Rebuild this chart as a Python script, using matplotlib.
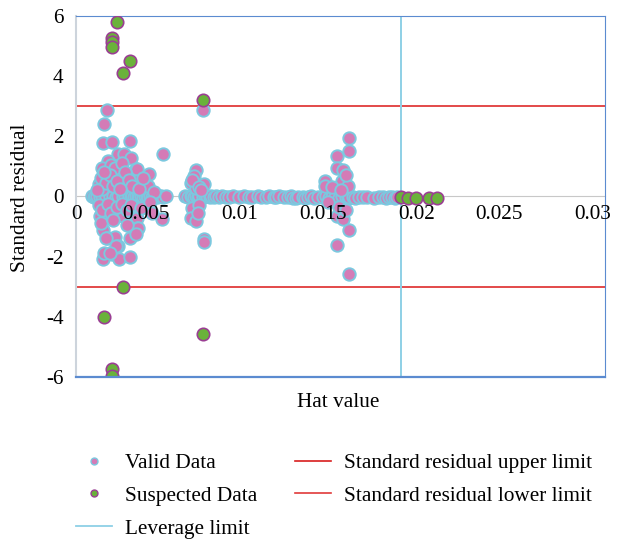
import numpy as np
import matplotlib
matplotlib.use("Agg")
import matplotlib.pyplot as plt
import matplotlib.transforms as mtransforms
from matplotlib.lines import Line2D

plt.rcParams['font.family'] = ['Liberation Serif', 'DejaVu Serif']

# --- Data ---
# valid points lying on the zero line
zero_x = [0.0009, 0.0010, 0.0011, 0.0012, 0.00136, 0.0015, 0.0017, 0.0019, 0.0021, 0.00227,
          0.0024, 0.00265, 0.0028, 0.00302, 0.0031, 0.0032, 0.00331, 0.0034, 0.0035, 0.00359,
          0.0037, 0.00378, 0.0039, 0.0040, 0.0041, 0.0042, 0.0043, 0.0044, 0.0045, 0.0046,
          0.0047, 0.0048, 0.00495, 0.0051, 0.0062, 0.00633, 0.0065, 0.0066, 0.0067, 0.0068,
          0.0069, 0.0070, 0.00718, 0.0073, 0.00745, 0.0076, 0.00766, 0.0078, 0.00795, 0.00813,
          0.0083, 0.0085, 0.0087, 0.0089, 0.00926, 0.0095, 0.00983, 0.0100, 0.0103, 0.0105,
          0.01078, 0.01096, 0.0112, 0.01134, 0.0115, 0.01181, 0.0120, 0.01219, 0.0123, 0.01248,
          0.0126, 0.01285, 0.0130, 0.01314, 0.0133, 0.01352, 0.0137, 0.01399, 0.0142, 0.01437,
          0.0145, 0.0147, 0.01493, 0.0151, 0.0153, 0.01541, 0.0155, 0.01569, 0.0158, 0.01607,
          0.0163, 0.0165, 0.01692, 0.0172, 0.01739, 0.0176, 0.01777, 0.0179, 0.0181, 0.0182]
zero_y = [0.0, -0.02, 0.01, 0.0, -0.03, 0.0, 0.02, -0.01, 0.0, -0.02,
          0.0, -0.03, 0.01, 0.0, -0.02, 0.0, -0.01, 0.0, 0.02, -0.03,
          0.0, -0.01, 0.0, 0.01, -0.02, 0.0, -0.01, 0.0, 0.0, -0.02,
          0.0, 0.01, -0.02, 0.0, 0.0, -0.02, 0.01, 0.0, -0.01, 0.0,
          -0.03, 0.0, -0.02, 0.0, 0.01, -0.01, 0.0, -0.03, 0.0, -0.02,
          0.0, -0.01, -0.03, 0.0, -0.02, 0.0, -0.03, -0.01, 0.0, -0.03,
          -0.02, 0.0, -0.03, -0.01, 0.0, -0.03, -0.02, 0.0, -0.04, -0.05,
          -0.03, -0.02, -0.05, -0.03, 0.0, -0.04, -0.02, -0.03, 0.0, -0.04,
          -0.02, -0.03, -0.05, 0.0, -0.03, -0.04, -0.02, -0.03, -0.04, -0.02,
          -0.03, -0.01, -0.04, -0.03, -0.02, -0.04, -0.03, -0.02, -0.04, -0.03]

# valid points spread around the three clusters
spread_x = [0.00174, 0.00160, 0.00155, 0.00204, 0.00306, 0.00495, 0.00236, 0.00274, 0.00312, 0.00180,
            0.00340, 0.00412, 0.00147, 0.00246, 0.00344, 0.00344, 0.00410, 0.00200, 0.00220, 0.00260,
            0.00130, 0.00140, 0.00150, 0.00170, 0.00190, 0.00210, 0.00230, 0.00280, 0.00300, 0.00320,
            0.00360, 0.00380, 0.00440, 0.00250, 0.00120, 0.00160,
            0.00344, 0.00344, 0.00306, 0.00155, 0.00174, 0.00221, 0.00240, 0.00202, 0.00151, 0.00246,
            0.00306, 0.00486, 0.00268, 0.00136, 0.00350, 0.00340, 0.00170, 0.00160, 0.00227, 0.00190,
            0.00130, 0.00150, 0.00180, 0.00200, 0.00230, 0.00260, 0.00290, 0.00310, 0.00370, 0.00420,
            0.00140, 0.00210, 0.00290, 0.00430,
            0.00720, 0.00680, 0.00670, 0.00728, 0.00650, 0.00680, 0.00660, 0.00650, 0.00680, 0.00728,
            0.00728, 0.00660, 0.00700, 0.00700, 0.00690, 0.00710,
            0.01548, 0.01548, 0.01478, 0.01478, 0.01516, 0.01412, 0.01507, 0.01544, 0.01412, 0.01478,
            0.01516, 0.01548, 0.01478, 0.01548, 0.01450, 0.01530, 0.01500, 0.01490, 0.01530, 0.01430]
spread_y = [2.89, 2.40, 1.78, 1.80, 1.84, 1.42, 1.40, 1.40, 1.28, 1.17,
            0.92, 0.76, 0.96, 0.65, 0.90, 0.51, 0.34, 1.05, 0.95, 1.10,
            0.40, 0.60, 0.25, 0.45, 0.70, 0.35, 0.50, 0.80, 0.55, 0.35,
            0.25, 0.60, 0.15, 0.25, 0.20, 0.80,
            -0.71, -1.04, -1.37, -1.10, -1.37, -1.36, -1.65, -1.93, -2.07, -2.07,
            -2.02, -0.76, -0.65, -0.65, -1.04, -1.26, -1.37, -1.87, -1.65, -1.87,
            -0.30, -0.45, -0.25, -0.55, -0.35, -0.25, -0.45, -0.30, -0.40, -0.20,
            -0.90, -0.80, -0.95, -0.55,
            2.89, 0.87, 0.67, 0.40, 0.45, 0.29, -0.38, -0.71, -0.82, -1.43,
            -1.50, 0.55, 0.30, -0.30, -0.55, 0.20,
            1.95, 1.51, 1.36, 0.95, 0.87, 0.51, 0.51, 0.34, 0.34, -0.65,
            -0.76, -1.13, -1.62, -2.59, 0.30, 0.70, 0.20, -0.35, -0.45, -0.20]

# suspected points
susp_x = [0.00231, 0.00206, 0.00206, 0.00206, 0.00306, 0.00268, 0.00720,
          0.00268, 0.00160, 0.00202, 0.00202, 0.00720,
          0.01843, 0.01885, 0.01928, 0.02002, 0.02045]
susp_y = [5.79, 5.27, 5.14, 4.96, 4.52, 4.09, 3.20,
          -3.00, -4.01, -5.75, -5.97, -4.58,
          -0.02, -0.05, -0.05, -0.05, -0.05]

upper_limit = 3
lower_limit = -3
leverage_limit = 0.01843

x_ticks = [0, 0.005, 0.01, 0.015, 0.02, 0.025, 0.03]
x_tick_labels = ["0", "0.005", "0.01", "0.015", "0.02", "0.025", "0.03"]
y_ticks = [-6, -4, -2, 0, 2, 4, 6]

# --- Colors ---
pink = "#D47BB6"
cyan_edge = "#7CC8DF"
green = "#6AB23A"
purple = "#9A3E93"
red = "#E03A3A"
lev_color = "#8ED0E6"
frame_blue = "#5B8BD0"
axis_gray = "#CDD4DC"
fs = 15.3

fig = plt.figure(figsize=(6.22, 5.43), dpi=100)
ax = fig.add_axes([0.1222, 0.306, 0.8505, 0.6645])

valid_x = zero_x + spread_x
valid_y = zero_y + spread_y
ax.scatter(valid_x, valid_y, s=80, c=pink, edgecolors=cyan_edge, linewidths=1.4, zorder=3)
ax.scatter(susp_x, susp_y, s=80, c=green, edgecolors=purple, linewidths=1.2, zorder=4)

ax.axhline(upper_limit, color=red, lw=1.3, zorder=2)
ax.axhline(lower_limit, color=red, lw=1.3, zorder=2)
ax.axvline(leverage_limit, color=lev_color, lw=1.4, zorder=2)

ax.set_xlim(0, 0.03)
ax.set_ylim(-6, 6)
ax.set_xticks(x_ticks)
ax.set_xticklabels(x_tick_labels)
ax.set_yticks(y_ticks)
ax.set_yticklabels([str(v) for v in y_ticks])

# Excel-style axes: horizontal axis crossing at zero
ax.spines['bottom'].set_position(('data', 0))
ax.spines['bottom'].set_color("#C8C8C8")
ax.spines['bottom'].set_zorder(1)
ax.spines['left'].set_color(axis_gray)
ax.spines['left'].set_linewidth(1.5)
ax.spines['top'].set_color(frame_blue)
ax.spines['right'].set_color(frame_blue)
ax.axhline(-6, color=frame_blue, lw=1.6, clip_on=False, zorder=5)
ax.xaxis.set_zorder(6)

ax.tick_params(axis='both', length=0, labelsize=fs)
ax.tick_params(axis='y', pad=9)
ax.tick_params(axis='x', pad=6)
offset = mtransforms.ScaledTranslation(6 / 100, 0, fig.dpi_scale_trans)
for lab in ax.get_xticklabels():
    lab.set_horizontalalignment('right')
    lab.set_transform(lab.get_transform() + offset)

fig.text(0.543, 0.258, "Hat value", ha='center', va='center', fontsize=fs)
fig.text(0.033, 0.635, "Standard residual", ha='center', va='center', rotation=90, fontsize=fs)

handles = [
    Line2D([], [], ls='none', marker='o', ms=5, mfc=pink, mec=cyan_edge, mew=1),
    Line2D([], [], ls='none', marker='o', ms=5, mfc=green, mec=purple, mew=1),
    Line2D([], [], color=lev_color, lw=1.3),
    Line2D([], [], color="#D81E1E", lw=1.2),
    Line2D([], [], color=red, lw=1.2),
]
labels = ["Valid Data", "Suspected Data", "Leverage limit",
          "Standard residual upper limit", "Standard residual lower limit"]
fig.legend(handles, labels, ncol=2, loc='upper left', bbox_to_anchor=(0.122, 0.165),
           frameon=False, fontsize=fs, handlelength=1.7, handletextpad=0.6,
           columnspacing=1.8, labelspacing=0.6, borderpad=0, borderaxespad=0)

fig.savefig("out.png", dpi=100)
